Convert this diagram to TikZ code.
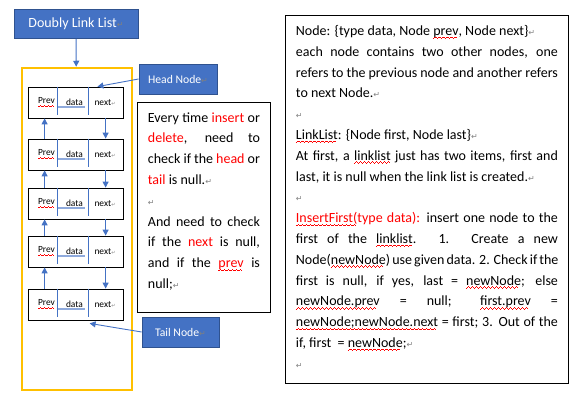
\documentclass[tikz,border=0pt]{standalone}
\usepackage{fontspec}
\setmainfont{Carlito}
\newfontfamily\markfont{DejaVu Sans}
\usetikzlibrary{arrows.meta}

\definecolor{wordblue}{HTML}{4472C4}
\definecolor{wordedge}{HTML}{2F528F}
\definecolor{wordgold}{HTML}{FFC000}
\definecolor{wordbar}{HTML}{8FAADC}

% paragraph mark, red wavy underline, red word, justified line
\newcommand{\pmark}[1][8]{{\markfont\fontsize{#1}{#1}\selectfont\textcolor{gray}{↵}}}
\newcommand{\squig}[1]{\setbox0\hbox{#1}\rlap{\hbox to\wd0{\color{red}\leaders\hbox{\rule[-3.4pt]{1pt}{0.8pt}\rule[-2.6pt]{1pt}{0.8pt}\rule[-1.8pt]{1pt}{0.8pt}\rule[-2.6pt]{1pt}{0.8pt}}\hfill}}\box0\relax}
\newcommand{\hl}[1]{\textcolor{red}{#1}}
\newcommand{\jline}[1]{\makebox[\hsize][s]{#1}}

\begin{document}
\begin{tikzpicture}[x=1pt,y=-1pt,->,>={Triangle[length=6pt,width=6pt]}]
		\tikzstyle{tag} = [rectangle,draw=wordedge,fill=wordblue,text=white,line width=0.8pt]
		\tikzstyle{cell} = [rectangle,draw,minimum width=95pt,minimum height=31pt,inner sep=0pt,line width=0.8pt]
		\tikzstyle{note} = [rectangle,draw,line width=0.9pt,inner xsep=10.5pt,inner ysep=10pt,font=\fontsize{14}{20.8}\selectfont]
		\tikzstyle{link} = [wordblue,line width=0.9pt]
		\tikzstyle{small} = [inner sep=0pt,font=\fontsize{9.4}{10}\selectfont]

		\useasboundingbox (0,0) rectangle (584,403);

		\node[tag,minimum width=124pt,minimum height=29pt,font=\fontsize{14}{16}\selectfont] (title) at (76,24) {Doubly Link List\pmark};
		\node[rectangle,draw=wordgold,line width=2.5pt,minimum width=110pt,minimum height=322pt] (frame) at (77,229) {};
		\node[tag,minimum width=78pt,minimum height=30pt,font=\fontsize{11.7}{14}\selectfont] (head) at (178,79) {Head Node\pmark};
		\node[tag,minimum width=77pt,minimum height=30pt,font=\fontsize{11.7}{14}\selectfont] (tail) at (180.5,332) {Tail Node\pmark};

		\foreach \i/\y in {1/102.5,2/154.5,3/203.5,4/251.5,5/304.5} {
			\node[cell] (n\i) at (75.5,\y) {};
			\draw[-,wordbar,line width=2.5pt] ([xshift=29pt,yshift=-4.5pt]n\i.west) -- ([xshift=57pt,yshift=-4.5pt]n\i.west);
			\draw[-,wordblue,line width=0.8pt] ([xshift=30pt]n\i.north west) -- ([xshift=30pt,yshift=3pt]n\i.south west);
			\draw[-,wordblue,line width=0.8pt] ([xshift=61pt]n\i.north west) -- ([xshift=61pt,yshift=3pt]n\i.south west);
			\node[small] (p\i) at ([xshift=-29pt]n\i.center) {\squig{Prev}};
			\node[small] (d\i) at ([xshift=-1pt]n\i.center) {data};
			\node[small] (x\i) at ([xshift=29.5pt]n\i.center) {next\pmark[5]};
		}

		\foreach \i in {1,...,4} {
			\pgfmathtruncatemacro{\j}{\i+1}
			\path ([xshift=17pt]n\j.north west) edge[link] ([xshift=17pt]n\i.south west);
			\path ([xshift=78pt]n\i.south west) edge[link] ([xshift=78pt]n\j.north west);
		}

		\path (title) edge[link] (frame);
		\path (head.west) edge[link] ([xshift=-26pt]n1.north east);
		\path (tail.west) edge[link] ([xshift=62pt,yshift=-3pt]n5.south west);

		\node[note,anchor=north west] (rule) at (137,102) {\parbox[t][190pt][t]{112pt}{%
			\jline{Every time \hl{insert} or}\\
			\jline{\hl{delete}, need to}\\
			\jline{check if the \hl{head} or}\\
			\hl{tail} is null.\pmark\\
			\pmark\\
			\jline{And need to check}\\
			\jline{if the \hl{next} is null,}\\
			\jline{and if the \hl{\squig{prev}} is}\\
			null;\pmark}};

		\node[note,anchor=north west] (spec) at (285,15) {\parbox[t][348pt][t]{262pt}{%
			Node: \{type data, Node \squig{prev}, Node next\}\pmark\\
			\jline{each node contains two other nodes, one}\\
			\jline{refers to the previous node and another refers}\\
			to next Node.\pmark\\
			\pmark\\
			\squig{LinkList}: \{Node first, Node last\}\pmark\\
			\jline{At first, a \squig{linklist} just has two items, first and}\\
			last, it is null when the link list is created.\pmark\\
			\pmark\\
			\jline{\hl{\squig{InsertFirst(}type data):} insert one node to the}\\
			\jline{first of the \squig{linklist}. 1. Create a new}\\
			\jline{Node(\squig{newNode}) use given data. 2. Check if the}\\
			\jline{first is null, if yes, last = \squig{newNode}; else}\\
			\jline{\squig{newNode.prev} = null; \squig{first.prev} =}\\
			\jline{\squig{newNode;newNode.next} = first; 3. Out of the}\\
			if, first \ = \squig{newNode};\pmark\\
			\pmark}};
	\end{tikzpicture}
\end{document}
